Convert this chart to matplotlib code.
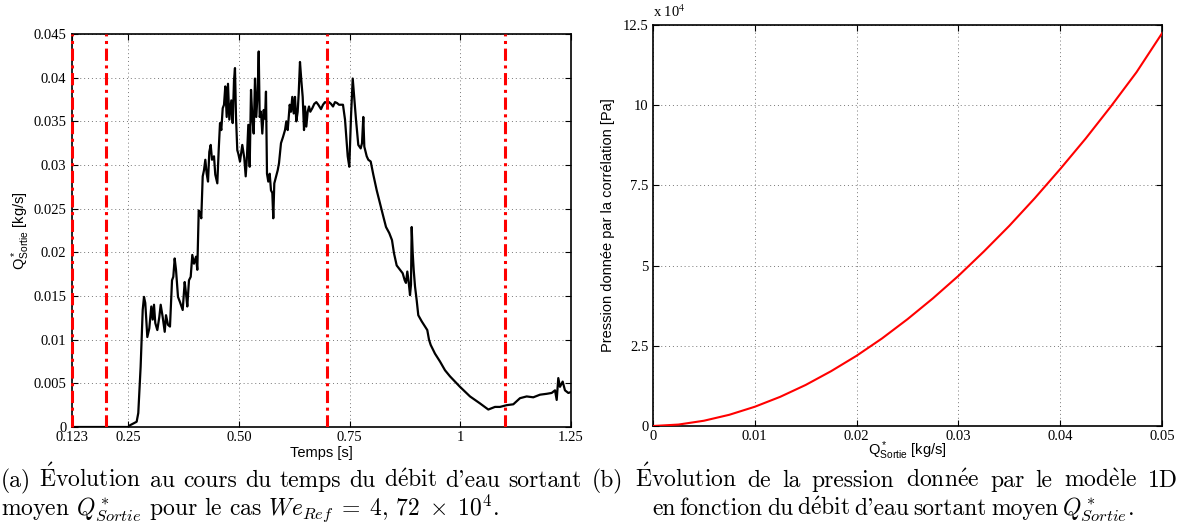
import numpy as np
import matplotlib
matplotlib.use("Agg")
import matplotlib.pyplot as plt

# (a) debit d'eau sortant en fonction du temps
temps = [0.123, 0.25, 0.254, 0.269, 0.2727, 0.278, 0.2827, 0.2856, 0.2885, 0.2931,
         0.2976, 0.3021, 0.3053, 0.3082, 0.3111, 0.3157, 0.3202, 0.3233, 0.3278, 0.3324,
         0.3353, 0.3398, 0.3443, 0.3489, 0.3518, 0.3549, 0.3579, 0.3624, 0.3669, 0.373,
         0.3775, 0.3805, 0.3834, 0.3872, 0.3911, 0.3947, 0.3985, 0.4031, 0.406, 0.4092,
         0.4121, 0.415, 0.4182, 0.4211, 0.4241, 0.4272, 0.4302, 0.4331, 0.4363, 0.4392,
         0.4437, 0.4466, 0.4512, 0.4543, 0.4573, 0.4602, 0.4634, 0.4663, 0.4692, 0.4724,
         0.4753, 0.4783, 0.4828, 0.4859, 0.4889, 0.4911, 0.4934, 0.4963, 0.4986, 0.5024,
         0.5076, 0.5121, 0.5153, 0.5182, 0.5212, 0.5243, 0.5273, 0.5302, 0.5334, 0.5363,
         0.5392, 0.5424, 0.5447, 0.5469, 0.5499, 0.5528, 0.556, 0.5589, 0.5611, 0.5634,
         0.5663, 0.5695, 0.5724, 0.5754, 0.5776, 0.5799, 0.583, 0.5876, 0.5905, 0.595,
         0.5995, 0.6041, 0.607, 0.6102, 0.6147, 0.6176, 0.6205, 0.6237, 0.6266, 0.6296,
         0.6327, 0.635, 0.6379, 0.6409, 0.644, 0.647, 0.6492, 0.6522, 0.6553, 0.6583,
         0.6612, 0.6657, 0.6702, 0.6748, 0.6793, 0.6854, 0.6899, 0.6944, 0.6989, 0.7034,
         0.708, 0.7125, 0.717, 0.7215, 0.726, 0.7305, 0.735, 0.7396, 0.7425, 0.7457,
         0.7493, 0.7531, 0.757, 0.7644, 0.7696, 0.775, 0.778, 0.7809, 0.7832, 0.7886,
         0.7922, 0.7976, 0.8035, 0.8112, 0.8186, 0.8261, 0.8322, 0.8396, 0.8457, 0.8502,
         0.8563, 0.8638, 0.8699, 0.8744, 0.8773, 0.8803, 0.8834, 0.8864, 0.8886, 0.8902,
         0.8925, 0.8947, 0.8977, 0.9015, 0.9051, 0.9128, 0.9203, 0.9254, 0.9293, 0.9331,
         0.9428, 0.9541, 0.9654, 0.9767, 0.988, 0.9993, 1.0219, 1.0445, 1.0632, 1.0783,
         1.0896, 1.1048, 1.1197, 1.1348, 1.1499, 1.1648, 1.18, 1.1951, 1.2064, 1.2139,
         1.2177, 1.2213, 1.2251, 1.2312, 1.2364, 1.2439, 1.25]
q_sortie = [0.0, 0.0, 0.0002, 0.0006, 0.0016, 0.0069, 0.0134, 0.0149, 0.0142, 0.0103,
            0.0113, 0.0138, 0.0123, 0.014, 0.0119, 0.0111, 0.0126, 0.014, 0.0126, 0.0109,
            0.0128, 0.0117, 0.0115, 0.0168, 0.0172, 0.0193, 0.018, 0.0149, 0.0143, 0.0134,
            0.0166, 0.0153, 0.0138, 0.0168, 0.0172, 0.0197, 0.0187, 0.0195, 0.018, 0.0248,
            0.0245, 0.0239, 0.0287, 0.0294, 0.0306, 0.029, 0.0281, 0.0315, 0.0323, 0.0306,
            0.031, 0.0289, 0.0279, 0.0317, 0.0348, 0.034, 0.0365, 0.0369, 0.039, 0.0355,
            0.0393, 0.0352, 0.0374, 0.0348, 0.0397, 0.0411, 0.0355, 0.0317, 0.0313, 0.0304,
            0.0323, 0.0308, 0.0287, 0.031, 0.0346, 0.0298, 0.0386, 0.0355, 0.0336, 0.0399,
            0.0355, 0.0384, 0.043, 0.0355, 0.0361, 0.0336, 0.0363, 0.0353, 0.0384, 0.029,
            0.0281, 0.029, 0.0271, 0.0268, 0.0239, 0.0279, 0.0285, 0.0294, 0.0302, 0.0325,
            0.0332, 0.034, 0.035, 0.034, 0.0369, 0.0361, 0.0378, 0.0359, 0.0378, 0.035,
            0.0361, 0.0382, 0.0418, 0.0397, 0.0378, 0.034, 0.0367, 0.0344, 0.0361, 0.0367,
            0.0361, 0.0365, 0.037, 0.0372, 0.0369, 0.0364, 0.0369, 0.0372, 0.0371, 0.0372,
            0.037, 0.0367, 0.0372, 0.0371, 0.0369, 0.0369, 0.0369, 0.0352, 0.0332, 0.031,
            0.0298, 0.0355, 0.0399, 0.0352, 0.0323, 0.0319, 0.0325, 0.0355, 0.0321, 0.031,
            0.0306, 0.0304, 0.0289, 0.0271, 0.0256, 0.0241, 0.0229, 0.0222, 0.0214, 0.0199,
            0.0185, 0.018, 0.0176, 0.0168, 0.0165, 0.0178, 0.0166, 0.0151, 0.0163, 0.0229,
            0.0199, 0.018, 0.0161, 0.0145, 0.0128, 0.0121, 0.0115, 0.0111, 0.01, 0.0094,
            0.0084, 0.0075, 0.0065, 0.0058, 0.0052, 0.0046, 0.0035, 0.0027, 0.002, 0.0023,
            0.0023, 0.0025, 0.0026, 0.0033, 0.0035, 0.0034, 0.0037, 0.0038, 0.0039, 0.0042,
            0.0031, 0.0056, 0.0046, 0.0052, 0.0042, 0.0039, 0.004]
t_limites = [0.123, 0.2, 0.7, 1.1]
t_ticks = [0.123, 0.25, 0.5, 0.75, 1.0, 1.25]
t_labels = ["0.123", "0.25", "0.50", "0.75", "1", "1.25"]

# (b) pression donnee par la correlation
q_modele = [0.0, 0.0025, 0.005, 0.0075, 0.01, 0.0125, 0.015, 0.0175, 0.02, 0.0225, 0.025,
            0.0275, 0.03, 0.0325, 0.035, 0.0375, 0.04, 0.0425, 0.045, 0.0475, 0.05]
p_modele = [0, 450, 1640, 3500, 6000, 9100, 12800, 17100, 21900, 27300, 33300,
            39800, 46800, 54400, 62400, 71000, 80100, 89600, 99700, 110300, 122400]

plt.rcParams["mathtext.fontset"] = "custom"
plt.rcParams["mathtext.rm"] = "Liberation Sans"
plt.rcParams["mathtext.it"] = "Liberation Sans:italic"

tick_font = {"family": "Liberation Serif", "size": 10.5}
lab_font = {"family": "Liberation Sans", "size": 10.5}
grid_kw = dict(color="#777777", linestyle=(0, (1, 3)), linewidth=0.7)

W, H = 1183, 532
fig = plt.figure(figsize=(W/100, H/100), dpi=100)
ax1 = fig.add_axes([72/W, 1-427/H, (571-72)/W, (427-34)/H])
ax2 = fig.add_axes([653/W, 1-426/H, (1162-653)/W, (426-25)/H])

def style(ax):
    ax.tick_params(direction="in", top=True, right=True, length=4, width=0.8, pad=3)
    for s in ax.spines.values():
        s.set_linewidth(1.2)
    ax.grid(True, **grid_kw)
    ax.set_axisbelow(True)
    for lab in ax.get_xticklabels() + ax.get_yticklabels():
        lab.set_fontfamily(tick_font["family"])
        lab.set_fontsize(tick_font["size"])

# --- (a)
ax1.plot(temps, q_sortie, color="black", linewidth=1.6, zorder=3)
for t in t_limites:
    ax1.axvline(t, color="red", linestyle=(0, (4, 1.5, 1, 1.5)), linewidth=2.2, zorder=4,
                clip_on=False if t == t_limites[0] else True)
ax1.set_xlim(0.123, 1.25)
ax1.set_ylim(0, 0.045)
ax1.set_xticks(t_ticks)
ax1.set_xticklabels(t_labels)
ax1.set_yticks(np.arange(0, 0.0451, 0.005))
ax1.set_yticklabels(["0", "0.005", "0.01", "0.015", "0.02", "0.025", "0.03", "0.035", "0.04", "0.045"])
style(ax1)
ax1.tick_params(axis="y", pad=4)
ax1.set_xlabel("Temps [s]", fontdict=lab_font, labelpad=1)
ax1.set_ylabel(r"Q$^*_{\mathrm{Sortie}}$ [kg/s]", fontdict=lab_font, labelpad=1)

# --- (b)
ax2.plot(q_modele, p_modele, color="red", linewidth=1.5, zorder=3)
ax2.set_xlim(0, 0.05)
ax2.set_ylim(0, 125000)
ax2.set_xticks([0, 0.01, 0.02, 0.03, 0.04, 0.05])
ax2.set_xticklabels(["0", "0.01", "0.02", "0.03", "0.04", "0.05"])
ax2.set_yticks([0, 25000, 50000, 75000, 100000, 125000])
ax2.set_yticklabels(["0", "2.5", "5", "7.5", "10", "12.5"])
style(ax2)
ax2.set_xlabel(r"Q$^*_{\mathrm{Sortie}}$ [kg/s]", fontdict=lab_font, labelpad=-3)
ax2.set_ylabel("Pression donnée par la corrélation [Pa]", fontdict=lab_font, labelpad=6)
ax2.text(0.0, 1.012, r"x 10$^{4}$", transform=ax2.transAxes, fontfamily="Liberation Serif",
         fontsize=10.5, math_fontfamily="stix", va="bottom", ha="left")

# --- legendes (accents via mathtext, police Computer Modern)
E_ac = r"$\mathrm{\acute{E}}$"
e_ac = r"$\mathrm{\acute{e}}$"
e_gr = r"$\mathrm{\grave{e}}$"
cap = dict(fontfamily="cmr10", fontsize=17, math_fontfamily="cm")
renderer = fig.canvas.get_renderer()

def justified(words, x0, x1, ybase):
    # mots repartis entre x0 et x1 (positions)
    items = [fig.text(0, 1-ybase/H, w, **cap) for w in words]
    widths = [it.get_window_extent(renderer).width for it in items]
    gap = (x1 - x0 - sum(widths)) / (len(words) - 1)
    x = x0
    for it, w in zip(items, widths):
        it.set_x(x/W)
        x += w + gap

justified(["(a)", E_ac + "volution", "au", "cours", "du", "temps", "du",
           "d" + e_ac + "bit", "d'eau", "sortant"], 1, 582, 487)
fig.text(1/W, 1-515/H,
         r"moyen $Q^*_{Sortie}$ pour le cas $We_{Ref}\;=\;4,\,72\;\times\;10^4$.", **cap)
justified(["(b)", E_ac + "volution", "de", "la", "pression", "donn" + e_ac + "e",
           "par", "le", "mod" + e_gr + "le", "1D"], 592, 1178, 487)
justified(["en", "fonction", "du", "d" + e_ac + "bit", "d'eau", "sortant", "moyen",
           r"$Q^*_{Sortie}$."], 652, 1134, 515)

fig.savefig("out.png", dpi=100)
